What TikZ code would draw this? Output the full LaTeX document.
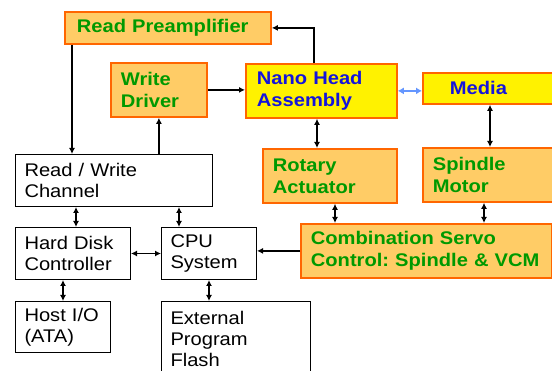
\documentclass[tikz,border=0pt]{standalone}
\usepackage{fontspec}
\setmainfont{Liberation Sans}[FakeStretch=1.1]
\usetikzlibrary{arrows.meta}
\definecolor{boxorange}{RGB}{255,204,102}
\definecolor{edgeorange}{RGB}{255,102,0}
\definecolor{txtgreen}{RGB}{0,153,0}
\definecolor{txtblue}{RGB}{20,20,220}
\definecolor{lightblue}{RGB}{100,150,255}
\tikzset{
  boxbase/.style={anchor=north west, inner ysep=0pt, align=left,
     execute at begin node={\frenchspacing\hyphenpenalty=10000\exhyphenpenalty=10000\hfuzz=50pt}},
  obox/.style={boxbase, draw=edgeorange, line width=1.8pt, fill=boxorange, text=txtgreen,
     font=\fontsize{18.3}{22}\selectfont\bfseries},
  ybox/.style={boxbase, draw=edgeorange, line width=1.8pt, fill=yellow, text=txtblue,
     font=\fontsize{18.3}{22}\selectfont\bfseries},
  wbox/.style={boxbase, draw=black, line width=1pt, fill=white, text=black,
     font=\fontsize{18.3}{21}\selectfont},
  arr/.style={line width=1.8pt, -{Latex[length=6pt,width=6pt]}},
  darr/.style={line width=1.8pt, {Latex[length=6pt,width=6pt]}-{Latex[length=6pt,width=6pt]}},
  barr/.style={line width=2pt, draw=lightblue, {Latex[length=6pt,width=7pt]}-{Latex[length=6pt,width=7pt]}}
}
\begin{document}
\begin{tikzpicture}[x=1pt,y=-1pt]
\useasboundingbox (0,0) rectangle (552,371);
% orange / yellow boxes
\node[obox, inner xsep=12pt, text width=182pt, minimum height=32pt] (rp) at (64,11) {Read~Preamplifier};
\node[obox, inner xsep=10pt, text width=76pt, minimum height=54pt] (wd) at (110,62) {Write\\Driver};
\node[ybox, inner xsep=11pt, text width=129pt, minimum height=54pt] (nh) at (245,63) {Nano~Head\\Assembly};
\node[ybox, inner xsep=27pt, text width=76pt, minimum height=31pt] (md) at (422,72) {Media};
\node[obox, inner xsep=10pt, text width=114pt, minimum height=54pt] (ra) at (262,148) {Rotary\\Actuator};
\node[obox, inner xsep=10pt, text width=110pt, minimum height=54pt] (sm) at (422,147) {Spindle\\Motor};
\node[obox, inner xsep=10pt, text width=231pt, minimum height=54pt] (cs) at (300,223) {\mbox{Combination~Servo}\\\mbox{Control:~Spindle~\&~VCM}};
% white boxes
\node[wbox, inner xsep=9pt, text width=179pt, minimum height=52pt] (rw) at (15,154) {Read~/~Write\\Channel};
\node[wbox, inner xsep=9pt, text width=97pt, minimum height=52pt] (hdc) at (15,227) {Hard~Disk\\Controller};
\node[wbox, inner xsep=9pt, text width=77pt, minimum height=52pt] (cpu) at (161,227) {CPU\\System};
\node[wbox, inner xsep=9pt, text width=77pt, minimum height=51pt] (host) at (15,301) {Host~I/O\\(ATA)};
\node[wbox, inner xsep=9pt, text width=131pt, minimum height=74pt] (fl) at (161,301) {External\\Program\\Flash};
% connectors
\draw[arr] ([xshift=8pt]rp.south west) -- ([xshift=8pt]rp.south west |- rw.north);
\draw[arr] (wd.south |- rw.north) -- (wd.south);
\draw[arr] (wd.east) -- (wd.east -| nh.west);
\draw[arr] ([xshift=69pt]nh.north west) |- (rp.east);
\draw[barr] (nh.east) -- (nh.east -| md.west);
\draw[darr] ([xshift=72pt]nh.south west) -- ([xshift=72pt]nh.south west |- ra.north);
\draw[darr] ([xshift=68pt]md.south west) -- ([xshift=68pt]md.south west |- sm.north);
\draw[darr] ([xshift=73pt]ra.south west) -- ([xshift=73pt]ra.south west |- cs.north);
\draw[darr] ([xshift=62pt]sm.south west) -- ([xshift=62pt]sm.south west |- cs.north);
\draw[arr] (cs.west) -- (cs.west -| cpu.east);
\draw[darr] ([xshift=61pt]rw.south west) -- ([xshift=61pt]rw.south west |- hdc.north);
\draw[darr] ([xshift=18pt]cpu.north west) -- ([xshift=18pt]cpu.north west |- rw.south);
\draw[darr] (hdc.east) -- (hdc.east -| cpu.west);
\draw[darr] (host.north) -- (host.north |- hdc.south);
\draw[darr] (cpu.south) -- (cpu.south |- fl.north);
\end{tikzpicture}
\end{document}
